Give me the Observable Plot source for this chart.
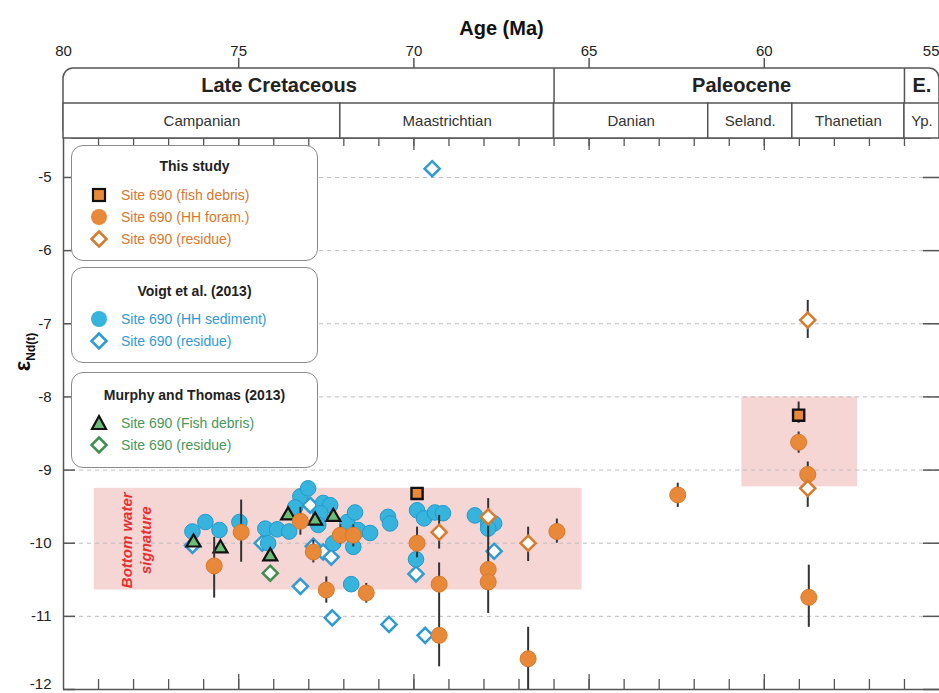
<!DOCTYPE html>
<html><head><meta charset="utf-8">
<script src="https://cdn.jsdelivr.net/npm/d3@7"></script>
<script src="https://cdn.jsdelivr.net/npm/@observablehq/plot@0.6"></script>
<style>
html,body{margin:0;padding:0;background:#fff;}
#wrap{position:relative;width:939px;height:693px;overflow:hidden;font-family:Arial,"Liberation Sans",sans-serif;}
#wrap svg{display:block;overflow:visible;}
.lg{position:absolute;left:71px;width:247px;background:#fff;border:1px solid #8a8a8a;border-radius:12px;box-sizing:border-box;}
.lg .t{position:absolute;left:0;right:0;text-align:center;font-weight:bold;font-size:14px;color:#222;line-height:18px;}
.lg .r{position:absolute;left:16px;height:18px;line-height:18px;font-size:14px;white-space:nowrap;}
.lg .r svg{position:absolute;left:0;top:-1px;overflow:visible;}
.lg .r span{position:absolute;left:33px;top:0;}
#ylab{position:absolute;left:24px;top:352px;transform:translate(-50%,-50%) rotate(-90deg);font-weight:bold;white-space:nowrap;color:#111;}
</style></head>
<body>
<div id="wrap"></div>
<script>
// ---------- axis / timescale ----------
const ageTicks = [80, 75, 70, 65, 60, 55];
const yTicks = [-5, -6, -7, -8, -9, -10, -11, -12];
const gridVals = [-5, -6, -7, -8, -9, -10, -11];

const epochNames = ["Late Cretaceous", "Paleocene", "E."];
const epochStart = [80, 66, 56];
const epochEnd = [66, 56, 55];
const epochLabelAge = [73.85, 60.65, 55.5];

const stageNames = ["Campanian", "Maastrichtian", "Danian", "Seland.", "Thanetian", "Yp."];
const stageStart = [80, 72.1, 66, 61.6, 59.2, 56];
const stageEnd = [72.1, 66, 61.6, 59.2, 56, 55];

// ---------- This study ----------
const fishAge = [69.91, 59.02];
const fishNd = [-9.32, -8.25];
const foramAge = [75.70, 74.93, 73.24, 72.87, 72.50, 72.10, 71.73, 71.36, 69.91, 69.28, 69.28, 67.88, 67.88, 66.74, 65.92, 62.47, 59.02, 58.76, 58.73];
const foramNd = [-10.31, -9.85, -9.70, -10.12, -10.64, -9.89, -9.89, -10.68, -10.0, -10.56, -11.26, -10.36, -10.53, -11.58, -9.84, -9.34, -8.62, -9.06, -10.74];
const residueAge = [69.28, 67.88, 66.74, 58.76, 58.76];
const residueNd = [-9.85, -9.64, -10.0, -9.25, -6.95];

// error bars (age, upper, lower)
const errAge = [75.70, 74.93, 73.24, 72.87, 72.50, 72.10, 71.73, 71.36, 69.91, 69.28, 69.28, 67.88, 66.74, 66.74, 65.92, 62.47, 59.02, 59.02, 58.76, 58.73, 58.76];
const errHi = [-9.92, -9.41, -9.51, -9.96, -10.46, -9.75, -9.75, -10.55, -9.78, -9.62, -10.27, -9.39, -9.78, -11.15, -9.67, -9.18, -8.07, -8.48, -8.89, -10.30, -6.68];
const errLo = [-10.75, -10.26, -9.89, -10.27, -10.82, -10.02, -10.05, -10.82, -10.20, -10.08, -11.69, -10.96, -10.25, -12.0, -10.0, -9.51, -8.36, -8.77, -9.51, -11.15, -7.20];

// ---------- Voigt et al. (2013) ----------
const voigtSedAge = [76.32, 75.95, 75.55, 74.98, 74.24, 73.90, 73.56, 74.16, 73.24, 73.02, 73.39, 72.59, 72.39, 72.67, 72.73, 72.30, 71.90, 71.68, 71.73, 71.59, 71.25, 70.74, 70.68, 71.79, 69.91, 69.71, 69.40, 69.17, 68.26, 67.88, 67.71, 67.88, 69.94];
const voigtSedNd = [-9.84, -9.71, -9.82, -9.71, -9.80, -9.81, -9.84, -10.0, -9.36, -9.25, -9.51, -9.45, -9.48, -9.59, -9.75, -10.0, -9.71, -9.58, -10.05, -9.82, -9.86, -9.64, -9.73, -10.56, -9.55, -9.66, -9.58, -9.59, -9.62, -9.73, -9.73, -9.80, -10.22];
const voigtResAge = [69.48, 76.32, 73.24, 72.33, 70.71, 69.68, 69.94, 67.71, 72.96, 72.87, 72.59, 72.36, 74.33];
const voigtResNd = [-4.88, -10.03, -10.59, -11.02, -11.11, -11.26, -10.42, -10.11, -9.48, -10.04, -10.12, -10.19, -10.0];

// ---------- Murphy and Thomas (2013) ----------
const murphyFishAge = [76.29, 75.52, 74.10, 73.59, 72.82, 72.30];
const murphyFishNd = [-9.99, -10.07, -10.18, -9.62, -9.69, -9.64];
const murphyResAge = [74.10];
const murphyResNd = [-10.41];

// ---------- shaded signature ranges ----------
const bandAgeStart = [79.12, 60.64];
const bandAgeEnd = [65.2, 57.34];
const bandNdTop = [-9.25, -8.0];
const bandNdBottom = [-10.64, -9.23];

// ---------- colours ----------
const ORANGE = "#E8893A", ORANGE_S = "#D67A2C", ORANGE_T = "#D9782E";
const BLUE = "#36B4DE", BLUE_S = "#2399CC", BLUE_D = "#2E9BD4", BLUE_T = "#3399D6";
const GREEN = "#6CBD78", GREEN_D = "#3E8E4E", GREEN_T = "#4A9658";
const AX = "#555";

const rows = (a, v) => a.map((x, i) => ({age: x, nd: v[i]}));
const epochs = epochNames.map((n, i) => ({name: n, start: epochStart[i], end: epochEnd[i], lab: epochLabelAge[i]}));
const stages = stageNames.map((n, i) => ({name: n, start: stageStart[i], end: stageEnd[i]}));
const errs = errAge.map((a, i) => ({age: a, hi: errHi[i], lo: errLo[i]}));
const bands = bandAgeStart.map((a, i) => ({a1: a, a2: bandAgeEnd[i], v1: bandNdTop[i], v2: bandNdBottom[i]}));
const minorAges = d3.range(56, 80);
const majorAges = ageTicks.filter(t => t < 80 && t > 55);
const xMin = d3.min(ageTicks), yMin = d3.min(yTicks);
const font = 'Arial, "Liberation Sans", sans-serif';

// ---------- header (age axis + timescale) ----------
const header = Plot.plot({
  width: 939, height: 138,
  marginLeft: 63, marginRight: 0, marginTop: 68, marginBottom: 0,
  x: {domain: [80, 55], axis: null},
  y: {type: "band", domain: ["epoch", "stage"], paddingInner: 0, paddingOuter: 0, axis: null},
  style: {fontFamily: font, background: "transparent", overflow: "visible"},
  marks: [
    Plot.text(["Age (Ma)"], {frameAnchor: "top", dy: -48, text: d => d, fontSize: 20, fontWeight: "bold", fill: "#111"}),
    Plot.text(ageTicks.filter(t => t !== xMin), {x: d => d, frameAnchor: "top", dy: -23, text: d => String(d), fontSize: 15, fill: "#222"}),
    Plot.text([xMin], {x: d => d, frameAnchor: "top", dy: -23, text: d => String(d), fontSize: 15, fill: "#222", textAnchor: "end"}),
    Plot.ruleX(majorAges, {x: d => d, insetBottom: 60, dy: -10, stroke: AX, strokeWidth: 1.5}),
    Plot.rect([{a1: d3.max(epochStart), a2: d3.min(epochEnd)}], {x1: "a1", x2: "a2", rx: 10, fill: "white", stroke: AX, strokeWidth: 1.5}),
    Plot.ruleX(epochStart.slice(1), {x: d => d, stroke: AX, strokeWidth: 1.5}),
    Plot.barX(stages, {x1: "start", x2: "end", y: () => "stage", fill: "white", stroke: AX, strokeWidth: 1.5}),
    Plot.text(epochs, {x: "lab", y: () => "epoch", text: "name", fontSize: 20, fontWeight: "bold", fill: "#222"}),
    Plot.text(stages, {x: d => (d.start + d.end) / 2, y: () => "stage", text: "name", fontSize: 15, fill: "#333"})
  ]
});

// ---------- main scatter ----------
const main = Plot.plot({
  width: 939, height: 555,
  marginLeft: 63, marginRight: 0, marginTop: 0, marginBottom: 4,
  x: {domain: [80, 55], axis: null},
  y: {domain: [-12, -4.467], axis: null},
  style: {fontFamily: font, background: "transparent", overflow: "visible", fontSize: "15px"},
  marks: [
    Plot.rect(bands, {x1: "a1", x2: "a2", y1: "v1", y2: "v2", fill: "#F6D5D5"}),
    Plot.ruleY(gridVals, {y: d => d, stroke: "#bdbdbd", strokeDasharray: "4,4", strokeWidth: 1}),
    Plot.text(["Bottom water\nsignature"], {x: () => 77.95, y: () => -9.96, text: d => d, rotate: -90, fill: "#E5312F", fontWeight: "bold", fontStyle: "italic", fontSize: 15, lineHeight: 1.3}),
    Plot.text(yTicks.filter(t => t !== yMin), {y: d => d, frameAnchor: "left", dx: -12, textAnchor: "end", text: d => String(d), fontSize: 15, fill: "#222"}),
    Plot.text([yMin], {y: d => d, frameAnchor: "left", dx: -12, dy: -5, textAnchor: "end", text: d => String(d), fontSize: 15, fill: "#222"}),
    Plot.ruleX([80], {x: d => d, stroke: AX, strokeWidth: 1.5}),
    Plot.ruleY([-12], {y: d => d, stroke: AX, strokeWidth: 1.5}),
    Plot.tickY(yTicks, {y: d => d, insetRight: 864, stroke: AX, strokeWidth: 1.5}),
    Plot.tickY(yTicks, {y: d => d, insetLeft: 860, stroke: AX, strokeWidth: 1.5}),
    Plot.tickX(minorAges, {x: d => d, insetTop: 541, stroke: AX, strokeWidth: 1.3}),
    Plot.tickX(majorAges, {x: d => d, insetTop: 536, stroke: AX, strokeWidth: 1.3}),
    Plot.tickX(minorAges, {x: d => d, insetBottom: 543, stroke: AX, strokeWidth: 1.3}),
    Plot.tickX(majorAges, {x: d => d, insetBottom: 539, stroke: AX, strokeWidth: 1.3}),
    // Voigt residue
    Plot.dot(rows(voigtResAge, voigtResNd), {x: "age", y: "nd", symbol: "diamond2", r: 6.8, fill: "white", stroke: BLUE_D, strokeWidth: 2.5}),
    // Voigt HH sediment
    Plot.dot(rows(voigtSedAge, voigtSedNd), {x: "age", y: "nd", r: 7.8, fill: BLUE, stroke: BLUE_S, strokeWidth: 1}),
    // Murphy residue
    Plot.dot(rows(murphyResAge, murphyResNd), {x: "age", y: "nd", symbol: "diamond2", r: 6.8, fill: "white", stroke: GREEN_D, strokeWidth: 2.5}),
    // Murphy fish debris
    Plot.dot(rows(murphyFishAge, murphyFishNd), {x: "age", y: "nd", symbol: "triangle", r: 5.2, fill: GREEN, stroke: "#111", strokeWidth: 2.2}),
    // error bars
    Plot.ruleX(errs, {x: "age", y1: "hi", y2: "lo", stroke: "#333", strokeWidth: 2}),
    // This study
    Plot.dot(rows(foramAge, foramNd), {x: "age", y: "nd", r: 8, fill: ORANGE, stroke: ORANGE_S, strokeWidth: 1}),
    Plot.dot(rows(residueAge, residueNd), {x: "age", y: "nd", symbol: "diamond2", r: 6.8, fill: "white", stroke: ORANGE_S, strokeWidth: 2.5}),
    Plot.dot(rows(fishAge, fishNd), {x: "age", y: "nd", symbol: "square", r: 6.3, fill: ORANGE, stroke: "#111", strokeWidth: 2.4})
  ]
});

const wrap = document.getElementById("wrap");
wrap.appendChild(header);
wrap.appendChild(main);

// ---------- legend boxes ----------
const sym = {
  square: c => `<rect x="5" y="4" width="12" height="12" fill="${c}" stroke="#111" stroke-width="2.2"/>`,
  circle: c => `<circle cx="11" cy="10" r="8" fill="${c}"/>`,
  diamond: c => `<path d="M11,2.5 L18.5,10 L11,17.5 L3.5,10Z" fill="#fff" stroke="${c}" stroke-width="2.5"/>`,
  triangle: c => `<path d="M11,3 L18,16 L4,16Z" fill="${c}" stroke="#111" stroke-width="2.2"/>`
};
const legendGroups = [
  {title: "This study", top: 145, height: 116, titleY: 20, rowY: [49, 71, 93],
   items: [["Site 690 (fish debris)", "square", ORANGE, ORANGE_T], ["Site 690 (HH foram.)", "circle", ORANGE, ORANGE_T], ["Site 690 (residue)", "diamond", ORANGE_S, ORANGE_T]]},
  {title: "Voigt et al. (2013)", top: 267, height: 96, titleY: 23, rowY: [51, 73],
   items: [["Site 690 (HH sediment)", "circle", BLUE, BLUE_T], ["Site 690 (residue)", "diamond", BLUE_D, BLUE_T]]},
  {title: "Murphy and Thomas (2013)", top: 372, height: 96, titleY: 22, rowY: [50, 72],
   items: [["Site 690 (Fish debris)", "triangle", GREEN, GREEN_T], ["Site 690 (residue)", "diamond", GREEN_D, GREEN_T]]}
];
for (const g of legendGroups) {
  const box = document.createElement("div");
  box.className = "lg";
  box.style.top = g.top + "px";
  box.style.height = g.height + "px";
  let html = `<div class="t" style="top:${g.titleY - 9}px">${g.title}</div>`;
  g.items.forEach((it, i) => {
    html += `<div class="r" style="top:${g.rowY[i] - 9}px"><svg width="22" height="20">${sym[it[1]](it[2])}</svg><span style="color:${it[3]}">${it[0]}</span></div>`;
  });
  box.innerHTML = html;
  wrap.appendChild(box);
}

const ylab = document.createElement("div");
ylab.id = "ylab";
ylab.innerHTML = '<span style="font-size:22px">ε</span><sub style="font-size:12px">Nd(t)</sub>';
wrap.appendChild(ylab);
</script>
</body></html>
